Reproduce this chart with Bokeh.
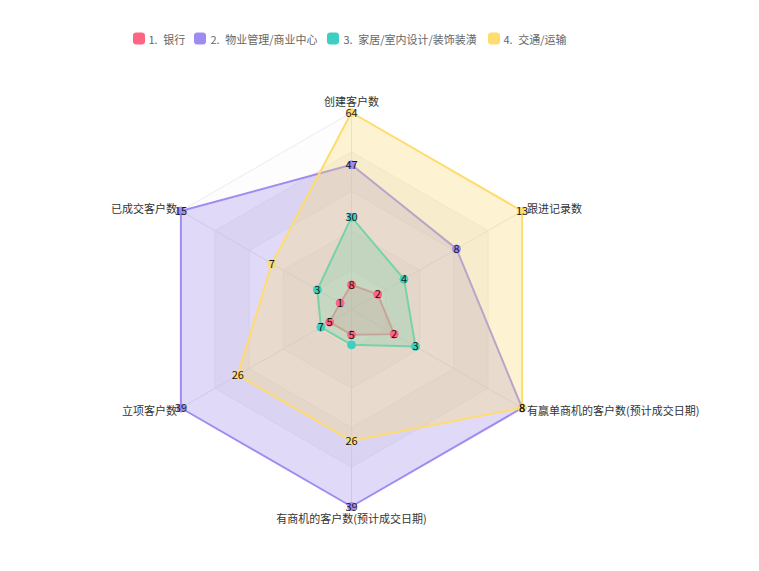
import numpy as np
from bokeh.plotting import figure
from bokeh.models import Range1d
from bokeh.embed import file_html
from bokeh.resources import INLINE
from bokeh.core.properties import value

# ---------------- data ----------------
indicators = ["创建客户数", "已成交客户数", "立项客户数",
              "有商机的客户数(预计成交日期)", "有赢单商机的客户数(预计成交日期)", "跟进记录数"]
indicator_max = [64, 15, 39, 39, 8, 13]

series_names = ["1.\u2002银行", "2.\u2002物业管理/商业中心", "3.\u2002家居/室内设计/装饰装潢", "4.\u2002交通/运输"]
bank = [8, 1, 5, 5, 2, 2]
property_mgmt = [47, 15, 39, 39, 8, 8]
home_design = [30, 3, 7, 7, 3, 4]
transport = [64, 7, 26, 26, 8, 13]
series_values = [bank, property_mgmt, home_design, transport]
# label shown per point (one teal label is not drawn in the reference)
label_shown = [
    [True] * 6,
    [True] * 6,
    [True, True, True, False, True, True],
    [True] * 6,
]

colors = ["#ff6482", "#a08cf0", "#3fcfc0", "#ffdc6e"]

# ---------------- layout ----------------
W, H = 743, 555
cx, cy, R = 351.0, 246.0, 197.0
FONT = "Noto Sans CJK SC"

p = figure(width=W, height=H, x_range=Range1d(0, W), y_range=Range1d(0, H),
           output_backend="svg", toolbar_location=None, min_border=0)
p.axis.visible = False
p.grid.visible = False
p.outline_line_color = None
p.background_fill_color = "white"
p.border_fill_color = "white"

n = len(indicators)
angles = np.deg2rad(90 + 360.0 / n * np.arange(n))
cosa, sina = np.cos(angles), np.sin(angles)

# split areas (outer to inner, alternating light bands)
levels = 5
band_colors = ["#fdfdfd", "#f4f4f4"]
for k in range(levels, 0, -1):
    r = R * k / levels
    p.patch(list(cx + r * cosa), list(cy + r * sina),
            fill_color=band_colors[(k - 1) % 2], line_color="#ebebeb", line_width=1)

# axis lines
for i in range(n):
    p.line([cx, cx + R * cosa[i]], [cy, cy + R * sina[i]], line_color="#e3e3e3", line_width=1)

# series areas
pts = []
for vals, col in zip(series_values, colors):
    frac = np.array(vals, dtype=float) / np.array(indicator_max, dtype=float)
    xs = cx + R * frac * cosa
    ys = cy + R * frac * sina
    pts.append((xs, ys))
    p.patch(list(xs), list(ys), fill_color=col, fill_alpha=0.3,
            line_color=col, line_width=2)

# series symbols and labels on top
for (xs, ys), col in zip(pts, colors):
    p.scatter(list(xs), list(ys), size=8, fill_color=col, line_color=col)
for (xs, ys), vals, shown in zip(pts, series_values, label_shown):
    lx = [x for x, s in zip(xs, shown) if s]
    ly = [y for y, s in zip(ys, shown) if s]
    lt = [str(v) for v, s in zip(vals, shown) if s]
    p.text(lx, ly, text=lt, text_align="center", text_baseline="middle",
           text_font=value(FONT), text_font_size="11px", text_color="#1a1a1a")

# indicator names
for i, name in enumerate(indicators):
    c, s = cosa[i], sina[i]
    vx, vy = cx + R * c, cy + R * s
    if abs(c) < 1e-6:
        align = "center"
        tx = vx
        ty = vy + (11.5 if s > 0 else -11)
    else:
        align = "left" if c > 0 else "right"
        tx = vx + (5 if c > 0 else -4)
        ty = vy + (3 if s > 0 else -1.5)
    p.text([tx], [ty], text=[name], text_align=align, text_baseline="middle",
           text_font=value(FONT), text_font_size="11px", text_color="#333333")

# legend (manual, rounded icons)
def rounded_square(xc, yc, half, rad, m=6):
    pts_x, pts_y = [], []
    corners = [(xc + half - rad, yc + half - rad, 0), (xc - half + rad, yc + half - rad, 90),
               (xc - half + rad, yc - half + rad, 180), (xc + half - rad, yc - half + rad, 270)]
    for (ox, oy, a0) in corners:
        for t in np.linspace(a0, a0 + 90, m):
            pts_x.append(ox + rad * np.cos(np.deg2rad(t)))
            pts_y.append(oy + rad * np.sin(np.deg2rad(t)))
    return pts_x, pts_y

legend_y = 517
icon_x = [138.5, 199.5, 332.5, 493.5]
text_x = [148, 210, 343, 503]
for name, col, ix, tx in zip(series_names, colors, icon_x, text_x):
    rx, ry = rounded_square(ix, legend_y, 6, 3)
    p.patch(rx, ry, fill_color=col, line_color=None)
    p.text([tx], [legend_y], text=[name], text_align="left", text_baseline="middle",
           text_font=value(FONT), text_font_size="11px", text_color="#666666")

open("out.html", "w").write(file_html(p, INLINE))
